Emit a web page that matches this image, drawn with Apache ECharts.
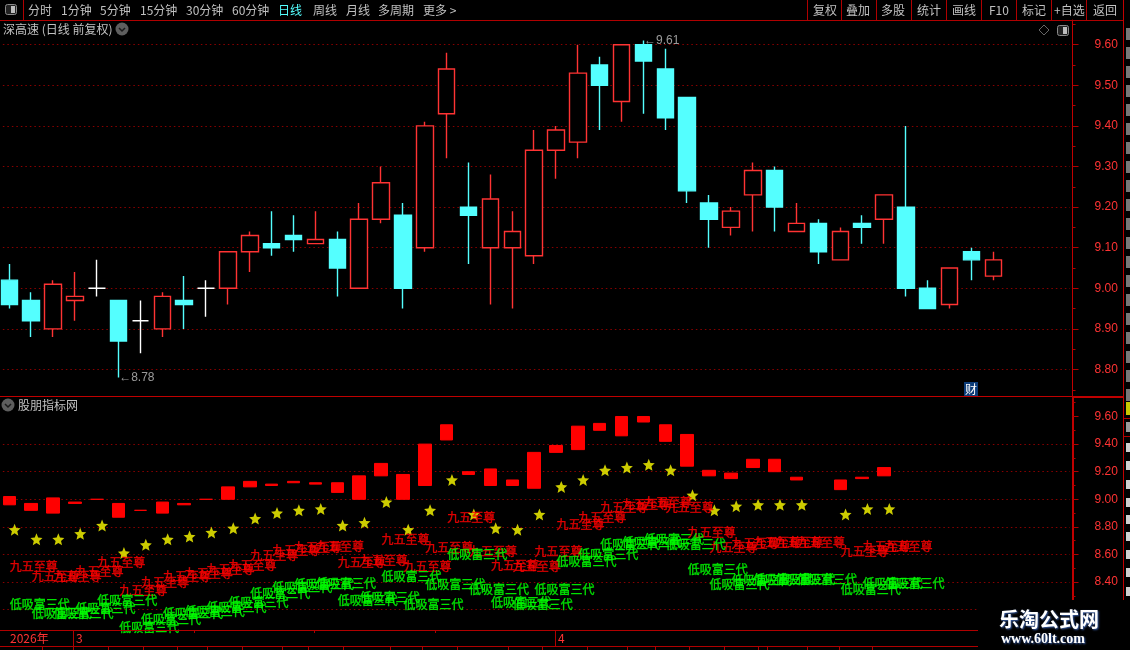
<!DOCTYPE html>
<html>
<head>
<meta charset="utf-8">
<style>html,body{margin:0;padding:0;background:#000;overflow:hidden}#c{width:1130px;height:650px}</style>
<script src="https://cdn.jsdelivr.net/npm/echarts@6/dist/echarts.min.js"></script>
</head>
<body>
<div id="c"></div>
<script>
const dates = ['2026-02-25','2026-02-26','2026-02-27','2026-03-02','2026-03-03','2026-03-04','2026-03-05','2026-03-06','2026-03-09','2026-03-10','2026-03-11','2026-03-12','2026-03-13','2026-03-16','2026-03-17','2026-03-18','2026-03-19','2026-03-20','2026-03-23','2026-03-24','2026-03-25','2026-03-26','2026-03-27','2026-03-30','2026-03-31','2026-04-01','2026-04-02','2026-04-03','2026-04-07','2026-04-08','2026-04-09','2026-04-10','2026-04-13','2026-04-14','2026-04-15','2026-04-16','2026-04-17','2026-04-20','2026-04-21','2026-04-22','2026-04-23','2026-04-24','2026-04-27','2026-04-28','2026-04-29','2026-04-30','','',''];
const candleOpen  = [9.02,8.97,8.90,8.97,9.00,8.97,8.92,8.90,8.97,9.00,9.00,9.09,9.11,9.13,9.11,9.12,9.00,9.17,9.18,9.10,9.43,9.20,9.10,9.10,9.08,9.34,9.36,9.55,9.46,9.60,9.54,9.47,9.21,9.15,9.23,9.29,9.14,9.16,9.07,9.16,9.17,9.20,9.00,8.96,9.09,9.03];
const candleClose = [8.96,8.92,9.01,8.98,9.00,8.87,8.92,8.98,8.96,9.00,9.09,9.13,9.10,9.12,9.12,9.05,9.17,9.26,9.00,9.40,9.54,9.18,9.22,9.14,9.34,9.39,9.53,9.50,9.60,9.56,9.42,9.24,9.17,9.19,9.29,9.20,9.16,9.09,9.14,9.15,9.23,9.00,8.95,9.05,9.07,9.07];
const candleLow   = [8.95,8.88,8.88,8.92,8.98,8.78,8.84,8.88,8.90,8.93,8.96,9.04,9.08,9.09,9.11,8.98,9.00,9.16,8.95,9.09,9.32,9.06,8.96,8.95,9.06,9.27,9.32,9.39,9.41,9.43,9.39,9.21,9.10,9.13,9.14,9.14,9.14,9.06,9.07,9.11,9.11,8.98,8.95,8.95,9.02,9.02];
const candleHigh  = [9.06,8.99,9.02,9.04,9.07,8.97,8.97,8.99,9.03,9.02,9.09,9.14,9.19,9.18,9.19,9.14,9.21,9.30,9.21,9.41,9.58,9.31,9.28,9.19,9.39,9.40,9.60,9.57,9.60,9.61,9.59,9.47,9.23,9.20,9.31,9.30,9.21,9.17,9.15,9.18,9.23,9.40,9.02,9.05,9.10,9.09];
const starValues  = [8.78,8.71,8.71,8.75,8.81,8.61,8.67,8.71,8.73,8.76,8.79,8.86,8.90,8.92,8.93,8.81,8.83,8.98,8.78,8.92,9.14,8.89,8.79,8.78,8.89,9.09,9.14,9.21,9.23,9.25,9.21,9.03,8.92,8.95,8.96,8.96,8.96,null,8.89,8.93,8.93,null,null,null,null,null];
const redTextValues = [8.51,8.44,8.44,8.48,8.54,8.34,8.40,8.44,8.46,8.49,8.52,8.59,8.63,8.65,8.66,8.54,8.56,8.71,8.51,8.65,8.87,8.62,8.52,8.51,8.62,8.82,8.87,8.94,8.96,8.98,8.94,8.76,8.65,8.68,8.69,8.69,8.69,null,8.62,8.66,8.66,null,null,null,null,null];
const greenTextValues = [8.24,8.17,8.17,8.21,8.27,8.07,8.13,8.17,8.19,8.22,8.25,8.32,8.36,8.38,8.39,8.27,8.29,8.44,8.24,8.38,8.60,8.35,8.25,8.24,8.35,8.55,8.60,8.67,8.69,8.71,8.67,8.49,8.38,8.41,8.42,8.42,8.42,null,8.35,8.39,8.39,null,null,null,null,null];
const mainTicks = [9.6,9.5,9.4,9.3,9.2,9.1,9.0,8.9,8.8];
const mainMinorTicks = [9.65,9.55,9.45,9.35,9.25,9.15,9.05,8.95,8.85,8.75];
const lowerTicks = [9.6,9.4,9.2,9.0,8.8,8.6,8.4,8.2];
const lowerGridTicks = [9.4,9.2,9.0,8.8,8.6,8.4,8.2];
const lowerMinorTicks = [9.7,9.5,9.3,9.1,8.9,8.7,8.5,8.3];
const periodTabs = [['分时',28],['1分钟',61],['5分钟',100],['15分钟',140],['30分钟',186],['60分钟',232],['周线',313],['月线',346],['多周期',378],['更多 >',423]];
const actionTabs = [['复权',813],['叠加',846],['多股',881],['统计',917],['画线',952],['F10',989],['标记',1022],['+自选',1054],['返回',1093]];
const actionSeparators = [807,841,876,911,946,981,1016,1051,1086];
const bottomSeparators = [42,73,108,143,177,207,242,282,308,343,390,422,457,508,542,587,627,655,689,724,758,767,807,839,872];
const extremes = [[5,8.78,'8.78'],[29,9.61,'9.61']];

const RED='#ff3333', CYAN='#54ffff', LINE='#b00000', DOT='#8a0000', GRAY='#c0c0c0';
const CJK='"Noto Sans CJK SC","Liberation Sans",sans-serif';

const candles = candleOpen.map((o,i)=>[o,candleClose[i],candleLow[i],candleHigh[i]]);
const bars = candleOpen.map((o,i)=>{
  if(starValues[i]==null) return ['-','-','-','-'];
  const c=candleClose[i];
  return [o,c,Math.min(o,c),Math.max(o,c)];
});
const points = arr => arr.map((v,i)=>v==null?null:[i,v]).filter(Boolean);

function rect(x,y,w,h,fill,z){return {type:'rect',silent:true,z:z||60,shape:{x,y,width:w,height:h},style:{fill}};}
function text(x,y,t,fill,font,extra){return {type:'text',silent:true,z:(extra&&extra.z)||61,style:Object.assign({x,y,text:t,fill,font:font||('12px '+CJK),verticalAlign:'middle'},extra&&extra.style)};}
function chevronButton(cx,cy){return [
  {type:'circle',silent:true,z:61,shape:{cx,cy,r:6.5},style:{fill:'#5e5e5e'}},
  {type:'polyline',silent:true,z:62,shape:{points:[[cx-3,cy-1],[cx,cy+2],[cx+3,cy-1]]},style:{stroke:'#1a1a1a',lineWidth:1.5,fill:null}}
];}
function panelIcon(x,y){return [
  {type:'rect',silent:true,z:61,shape:{x:x+0.5,y:y+0.5,width:11,height:10,r:2},style:{stroke:'#8a8a8a',fill:'#222',lineWidth:1}},
  {type:'rect',silent:true,z:62,shape:{x:x+6,y:y+2,width:4,height:7},style:{fill:'#bdbdbd'}}
];}

const graphic = [];
graphic.push(rect(0,20,1124,1,LINE), rect(23,0,1,20,LINE), rect(0,396,1124,1,'#c00000'));
actionSeparators.forEach(x=>graphic.push(rect(x,0,1,20,LINE)));
graphic.push(rect(1123,0,1,600,'#c00000'), rect(1072,396,52,2,'#c00000'));
periodTabs.forEach(t=>graphic.push(text(t[1],10,t[0],GRAY)));
graphic.push(text(278,10,'日线',CYAN));
actionTabs.forEach(t=>graphic.push(text(t[1],10,t[0],GRAY)));
graphic.push(...panelIcon(5,4));
graphic.push(text(3,29,'深高速 (日线 前复权)',GRAY));
graphic.push(...chevronButton(122,29));
graphic.push({type:'polygon',silent:true,z:61,shape:{points:[[1044,25],[1049,30],[1044,35],[1039,30]]},style:{stroke:'#666',fill:null,lineWidth:1}});
graphic.push(...panelIcon(1057,25));
graphic.push(...chevronButton(8,405));
graphic.push(text(18,405,'股朋指标网',GRAY));
graphic.push(rect(964,382,14,14,'#0c3c78'), text(965,389,'财','#ffffff',null,{z:62}));
graphic.push(rect(0,630,978,1,LINE), rect(0,646,978,1,LINE));
graphic.push(text(10,638,'2026年',RED), rect(73,630,1,16,LINE), text(76,638,'3',RED), rect(555,630,1,16,LINE), text(558,638,'4',RED));
[194,314,435].forEach(x=>graphic.push(rect(x,630,1,3,LINE)));
bottomSeparators.forEach(x=>graphic.push(rect(x,647,1,3,LINE)));
for(let y=28;y<392;y+=19) graphic.push(rect(1126,y,4,12,'#777'));
graphic.push(rect(1126,402,4,13,'#c8c800'), rect(1124,418,6,1,LINE), rect(1126,422,4,10,'#999'), rect(1124,436,6,1,LINE));
[443,461,480,498,515,532,550,568,587].forEach(y=>graphic.push(rect(1126,y,4,9,'#d0d0d0')));
graphic.push(rect(979,600,151,50,'#000000',70));
const shadow = {textShadowColor:'#3a5fa8',textShadowBlur:2,textShadowOffsetX:1,textShadowOffsetY:1};
graphic.push(text(999,619,'乐淘公式网','#ffffff','bold 20px "Noto Sans CJK SC"',{z:71,style:shadow}));
graphic.push(text(1001,639,'www.60lt.com','#ffffff','bold 14px "Liberation Serif"',{z:71,style:shadow}));

const dotted = {show:true,lineStyle:{color:DOT,type:[1.5,3],width:1}};
const hiddenX = i => ({type:'category',gridIndex:i,data:dates,boundaryGap:true,show:false});
const AXIS_OFFSET = 2.65;
const minorAxis = (grid,min,max,values) => ({type:'value',gridIndex:grid,position:'right',offset:AXIS_OFFSET,min,max,
  axisLine:{show:false},axisLabel:{show:false},splitLine:{show:false},
  axisTick:{show:true,length:3,customValues:values,lineStyle:{color:LINE}}});
const labelStyle = values => ({show:true,margin:22,color:RED,fontSize:12,fontFamily:'"Liberation Sans"',customValues:values,formatter:v=>v.toFixed(2)});
const M0=8.7347,M1=9.6608,L0=8.0529,L1=9.7413;
const CLEAR='rgba(0,0,0,0)';

const textSeries = (name,arr,str,color,z)=>({
  name,type:'scatter',xAxisIndex:1,yAxisIndex:2,data:points(arr),symbolSize:1,z,silent:true,
  itemStyle:{color:CLEAR},
  label:{show:true,position:'right',distance:0,formatter:str,color,fontSize:12,fontFamily:CJK,align:'left',verticalAlign:'middle',textBorderColor:color,textBorderWidth:0.4},
  labelLayout:{hideOverlap:false}
});

const option = {
  backgroundColor:'#000',animation:false,
  grid:[{left:-1.63,top:20,width:1071.5,height:376,outerBoundsMode:'none'},{left:-1.63,top:397,width:1071.5,height:233,outerBoundsMode:'none'}],
  xAxis:[hiddenX(0),hiddenX(1)],
  yAxis:[
    {type:'value',gridIndex:0,position:'right',offset:AXIS_OFFSET,min:M0,max:M1,
      axisLine:{show:true,lineStyle:{color:'#c00000',width:1}},
      axisTick:{show:true,length:6,customValues:mainTicks,lineStyle:{color:LINE}},
      axisLabel:labelStyle(mainTicks),splitLine:dotted},
    minorAxis(0,M0,M1,mainMinorTicks),
    {type:'value',gridIndex:1,position:'right',offset:AXIS_OFFSET,min:L0,max:L1,
      axisLine:{show:true,lineStyle:{color:'#c00000',width:2}},
      axisTick:{show:true,length:6,customValues:lowerTicks,lineStyle:{color:LINE}},
      axisLabel:labelStyle(lowerTicks),splitLine:{show:false}},
    minorAxis(1,L0,L1,lowerMinorTicks),
    {type:'value',gridIndex:1,position:'right',min:L0,max:L1,
      axisLine:{show:false},axisLabel:{show:false},
      axisTick:{show:false,customValues:lowerGridTicks},splitLine:dotted}
  ],
  graphic:{elements:graphic},
  series:[
    {name:'K',type:'candlestick',xAxisIndex:0,yAxisIndex:0,data:candles,barWidth:17,z:3,silent:true,
      itemStyle:{color:'#000',color0:CYAN,borderColor:RED,borderColor0:CYAN,borderColorDoji:'#ffffff',borderWidth:1.4}},
    {name:'extremes',type:'scatter',xAxisIndex:0,yAxisIndex:0,data:extremes.map(e=>[e[0],e[1],e[2]]),symbolSize:1,z:4,silent:true,
      itemStyle:{color:CLEAR},
      label:{show:true,position:'right',distance:0,formatter:p=>'←'+p.data[2],color:GRAY,fontSize:12,fontFamily:'"Liberation Sans"',verticalAlign:'middle'}},
    {name:'bars',type:'candlestick',xAxisIndex:1,yAxisIndex:2,data:bars,barWidth:13,z:3,silent:true,
      itemStyle:{color:'#ff0000',color0:'#ff0000',borderColor:'#ff0000',borderColor0:'#ff0000',borderColorDoji:'#ff0000',borderWidth:1}},
    {name:'stars',type:'scatter',xAxisIndex:1,yAxisIndex:2,data:points(starValues),z:4,silent:true,
      symbol:'path://M50 0 L63.2 31.8 L97.6 34.5 L71.4 57 L79.4 90.5 L50 72.5 L20.6 90.5 L28.6 57 L2.4 34.5 L36.8 31.8 Z',
      symbolSize:12,symbolOffset:[5.3,0],itemStyle:{color:'#ffff00'}},
    textSeries('九五至尊',redTextValues,'九五至尊','#ff0000',5),
    textSeries('低吸富三代',greenTextValues,'低吸富三代','#00ff00',6)
  ]
};
const chart = echarts.init(document.getElementById('c'),null,{renderer:'canvas',width:1130,height:650});
chart.setOption(option);
</script>
</body>
</html>
